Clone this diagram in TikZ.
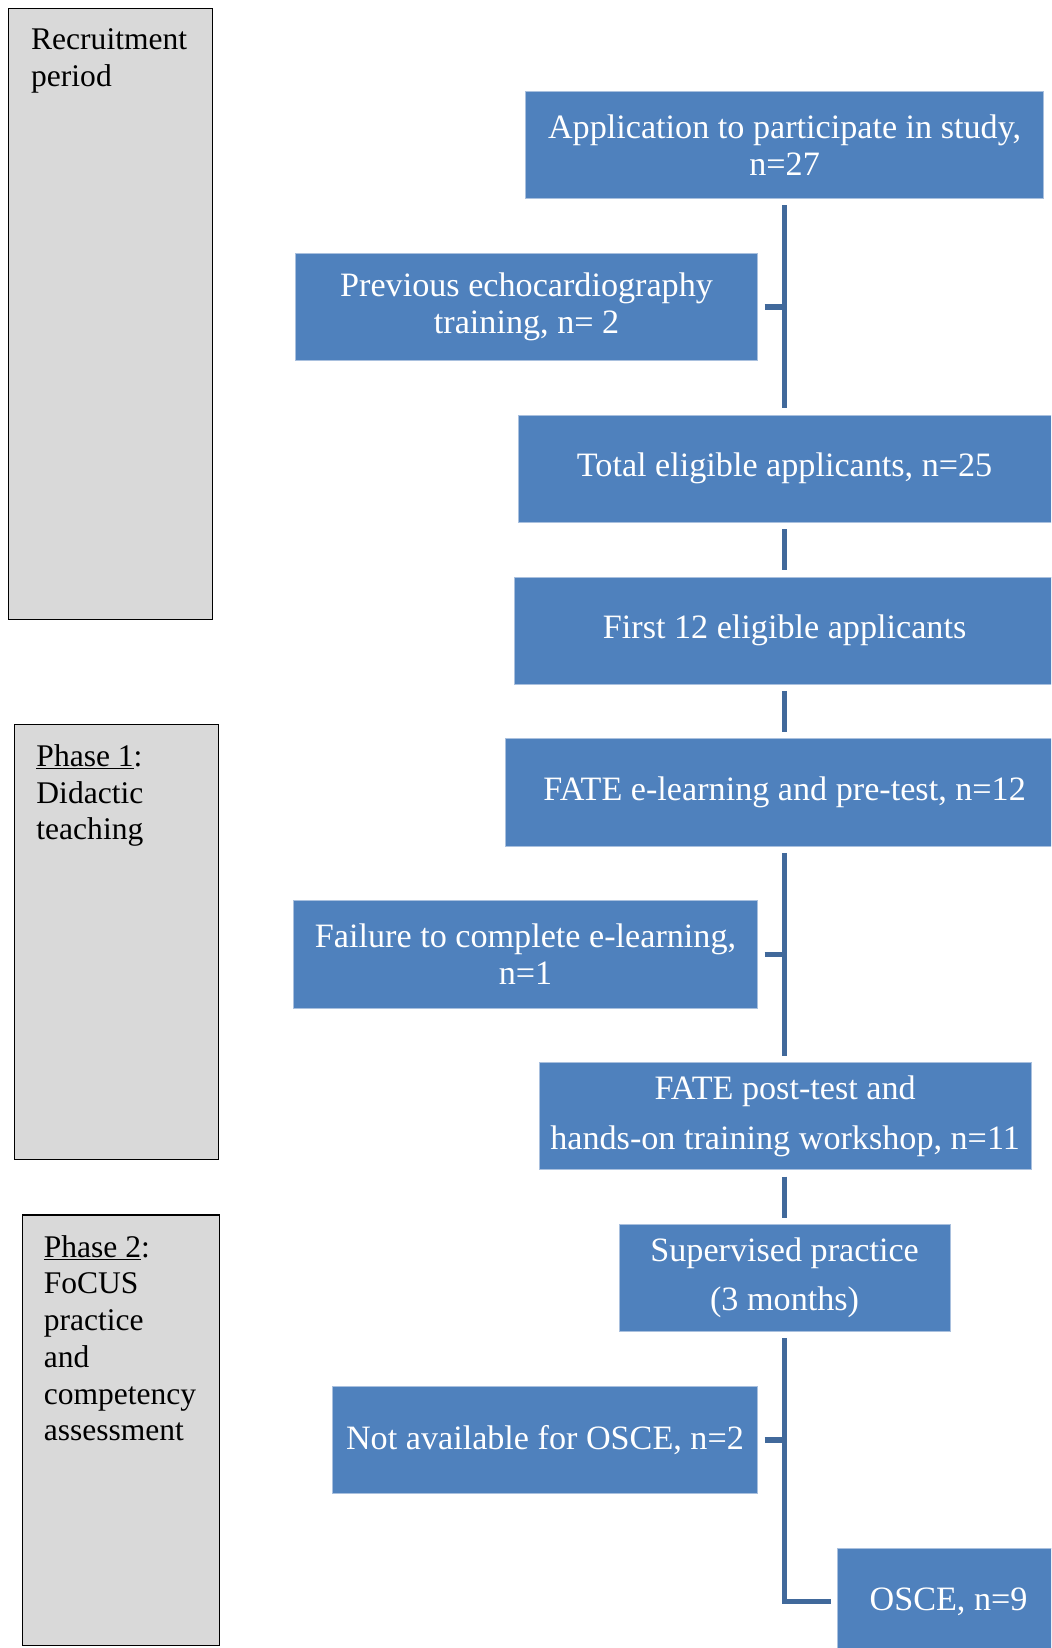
\documentclass[tikz,border=0pt]{standalone}
\usepackage{fontspec}
\setmainfont{Liberation Serif}
\usepackage{tikz}
\usetikzlibrary{positioning}
\definecolor{boxblue}{HTML}{4F81BD}
\definecolor{boxedge}{HTML}{A9C0DE}
\definecolor{linkblue}{HTML}{41699B}
\definecolor{phasegray}{HTML}{D9D9D9}
\begin{document}
\begin{tikzpicture}[x=1pt, y=-1pt,
    stage/.style={rectangle, fill=boxblue, draw=boxedge, line width=0.8pt, text=white, align=center, inner sep=0pt, minimum height=102pt, font=\fontsize{32.5}{35}\selectfont},
    widestage/.style={stage, font=\fontsize{32.5}{47}\selectfont},
    phase/.style={rectangle, fill=phasegray, draw=black, line width=1pt, inner sep=0pt},
    phasetext/.style={align=left, inner sep=0pt, font=\fontsize{30}{35}\selectfont},
    link/.style={draw=linkblue, line width=5pt}]
				\clip (0,0) rectangle (1000,1568);
				\node[phase, minimum width=194pt, minimum height=581pt] (recruit) at (105,298.5) {};
				\node[phase, minimum width=194pt, minimum height=414pt] (phaseone) at (111,896) {};
				\node[phase, minimum width=188pt, minimum height=410pt] (phasetwo) at (115,1361) {};
				\node[phasetext, below right=19.5pt and 22pt of recruit.north west] (recruitlabel) {Recruitment\\period};
				\node[phasetext, below right=19.5pt and 21pt of phaseone.north west] (phaseonelabel) {\underline{Phase 1}:\\Didactic\\teaching};
				\node[phasetext, below right=19.5pt and 21pt of phasetwo.north west] (phasetwolabel) {\underline{Phase 2}:\\FoCUS\\practice\\and\\competency\\assessment};
				\node[stage, minimum width=493pt] (apply) at (746.5,138) {Application to participate in study,\\n=27};
				\node[stage, minimum width=440pt] (prior) at (501,292) {Previous echocardiography\\training, n= 2};
				\node[stage, minimum width=507pt] (eligible) at (746.5,446) {Total eligible applicants, n=25};
				\node[stage, minimum width=515pt] (first) at (746.5,600) {First 12 eligible applicants};
				\node[stage, minimum width=531pt] (elearn) at (746.5,754) {FATE e-learning and pre-test, n=12};
				\node[stage, minimum width=442pt] (fail) at (500,908) {Failure to complete e-learning,\\n=1};
				\node[widestage, minimum width=468pt] (workshop) at (747,1062) {FATE post-test and\\hands-on training workshop, n=11};
				\node[widestage, minimum width=315pt] (practice) at (746.5,1216) {Supervised practice\\(3 months)};
				\node[stage, minimum width=405pt] (absent) at (518.5,1370) {Not available for OSCE, n=2};
				\node[stage, minimum width=211pt] (osce) at (902.5,1524) {OSCE, n=9};
				\draw[link, shorten <=6pt, shorten >=6pt] (apply.south) -- (eligible.north);
				\draw[link, shorten <=6pt] (prior.east) -- (prior.east -| apply.south);
				\draw[link, shorten <=6pt, shorten >=6pt] (eligible.south) -- (first.north);
				\draw[link, shorten <=6pt, shorten >=6pt] (first.south) -- (elearn.north);
				\draw[link, shorten <=6pt, shorten >=6pt] (elearn.south) -- (workshop.north -| elearn.south);
				\draw[link, shorten <=6pt] (fail.east) -- (fail.east -| elearn.south);
				\draw[link, shorten <=6pt, shorten >=6pt] (workshop.south -| practice.north) -- (practice.north);
				\draw[link, shorten <=6pt, shorten >=6pt] (practice.south) |- (osce.west);
				\draw[link, shorten <=6pt] (absent.east) -- (absent.east -| practice.south);
\end{tikzpicture}
\end{document}
